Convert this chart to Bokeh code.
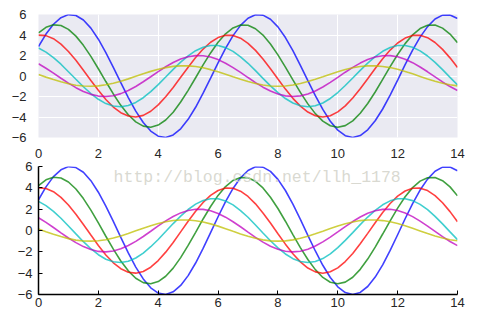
from bokeh.plotting import figure
from bokeh.layouts import column
from bokeh.models import Range1d, FixedTicker, Label
from bokeh.embed import file_html
from bokeh.resources import INLINE

x = [i * 0.25 for i in range(57)]

blue = [2.88, 4.09, 5.05, 5.69, 5.99, 5.90, 5.46, 4.67, 3.59, 2.29, 0.85, -0.65, -2.10, -3.43, -4.54, -5.37,
        -5.87, -6.00, -5.75, -5.15, -4.23, -3.05, -1.68, -0.20, 1.29, 2.70, 3.94, 4.94, 5.63, 5.97, 5.94, 5.54,
        4.79, 3.75, 2.47, 1.04, -0.45, -1.92, -3.26, -4.41, -5.28, -5.82, -6.00, -5.81, -5.25, -4.37, -3.22,
        -1.87, -0.40, 1.10, 2.52, 3.79, 4.82, 5.56, 5.94, 5.96, 5.61]
green = [4.21, 4.75, 4.99, 4.92, 4.55, 3.89, 2.99, 1.91, 0.71, -0.54, -1.75, -2.86, -3.78, -4.48, -4.89, -5.00,
         -4.79, -4.29, -3.53, -2.54, -1.40, -0.17, 1.08, 2.25, 3.29, 4.12, 4.69, 4.97, 4.95, 4.61, 3.99, 3.12,
         2.06, 0.87, -0.38, -1.60, -2.72, -3.67, -4.40, -4.85, -5.00, -4.84, -4.38, -3.64, -2.68, -1.56, -0.33,
         0.91, 2.10, 3.16, 4.02, 4.63, 4.95, 4.97, 4.67, 4.09, 3.25]
red = [3.99, 3.94, 3.64, 3.11, 2.39, 1.53, 0.56, -0.43, -1.40, -2.29, -3.03, -3.58, -3.91, -4.00, -3.84, -3.44,
       -2.82, -2.03, -1.12, -0.13, 0.86, 1.80, 2.63, 3.29, 3.75, 3.98, 3.96, 3.69, 3.19, 2.50, 1.65, 0.70,
       -0.30, -1.28, -2.18, -2.94, -3.52, -3.88, -4.00, -3.87, -3.50, -2.91, -2.15, -1.24, -0.27, 0.73, 1.68,
       2.53, 3.22, 3.70, 3.96, 3.97, 3.74, 3.27, 2.60, 1.77, 0.83]
cyan = [2.73, 2.33, 1.80, 1.15, 0.42, -0.32, -1.05, -1.71, -2.27, -2.69, -2.93, -3.00, -2.88, -2.58, -2.12, -1.52,
        -0.84, -0.10, 0.65, 1.35, 1.97, 2.47, 2.81, 2.98, 2.97, 2.77, 2.40, 1.87, 1.24, 0.52, -0.23, -0.96,
        -1.63, -2.20, -2.64, -2.91, -3.00, -2.90, -2.63, -2.19, -1.61, -0.93, -0.20, 0.55, 1.26, 1.89, 2.41,
        2.78, 2.97, 2.98, 2.80, 2.45, 1.95, 1.33, 0.62, -0.13, -0.86]
magenta = [1.20, 0.76, 0.28, -0.22, -0.70, -1.14, -1.51, -1.79, -1.96, -2.00, -1.92, -1.72, -1.41, -1.02, -0.56,
           -0.07, 0.43, 0.90, 1.31, 1.65, 1.88, 1.99, 1.98, 1.85, 1.60, 1.25, 0.82, 0.35, -0.15, -0.64, -1.09,
           -1.47, -1.76, -1.94, -2.00, -1.94, -1.75, -1.46, -1.07, -0.62, -0.13, 0.37, 0.84, 1.26, 1.61, 1.85,
           1.98, 1.99, 1.87, 1.64, 1.30, 0.88, 0.41, -0.08, -0.58, -1.03, -1.42]
yellow = [0.14, -0.11, -0.35, -0.57, -0.76, -0.90, -0.98, -1.00, -0.96, -0.86, -0.71, -0.51, -0.28, -0.03, 0.22,
          0.45, 0.66, 0.82, 0.94, 0.99, 0.99, 0.92, 0.80, 0.62, 0.41, 0.17, -0.08, -0.32, -0.54, -0.73, -0.88,
          -0.97, -1.00, -0.97, -0.88, -0.73, -0.54, -0.31, -0.07, 0.18, 0.42, 0.63, 0.80, 0.93, 0.99, 0.99, 0.93,
          0.82, 0.65, 0.44, 0.21, -0.04, -0.29, -0.52, -0.71, -0.86, -0.96]

series = [blue, green, red, cyan, magenta, yellow]
colors = ["#0000ff", "#008000", "#ff0000", "#00bfbf", "#bf00bf", "#bfbf00"]

x_ticks = [0, 2, 4, 6, 8, 10, 12, 14]
x_tick_labels = ["0", "2", "4", "6", "8", "10", "12", "14"]
y_ticks = [-6, -4, -2, 0, 2, 4, 6]
y_tick_labels = ["\u22126", "\u22124", "\u22122", "0", "2", "4", "6"]

watermark = "http://blog.csdn.net/llh_1178"

FONT = "Liberation Sans"


def make_fig(height, top, bottom, dark):
    p = figure(width=497, height=height, output_backend="svg", toolbar_location=None,
               x_range=Range1d(0, 14), y_range=Range1d(-6, 6),
               min_border_left=38, min_border_right=40, min_border_top=top, min_border_bottom=bottom)
    p.xaxis.ticker = FixedTicker(ticks=x_ticks)
    p.yaxis.ticker = FixedTicker(ticks=y_ticks)
    p.xaxis.major_label_overrides = {t: l for t, l in zip(x_ticks, x_tick_labels)}
    p.yaxis.major_label_overrides = {t: l for t, l in zip(y_ticks, y_tick_labels)}
    p.xaxis.minor_tick_line_color = None
    p.yaxis.minor_tick_line_color = None
    for ax in (p.xaxis, p.yaxis):
        ax.major_label_text_font = FONT
        ax.major_label_text_font_size = "13px"
        ax.major_label_text_color = "#262626"
    p.outline_line_color = None
    p.border_fill_color = "white"
    if dark:
        p.background_fill_color = "#EAEAF2"
        p.grid.grid_line_color = "white"
        p.grid.grid_line_width = 1
        p.xaxis.axis_line_color = None
        p.yaxis.axis_line_color = None
        p.xaxis.major_tick_line_color = None
        p.yaxis.major_tick_line_color = None
        p.xaxis.major_label_standoff = 5
        p.yaxis.major_label_standoff = 6
    else:
        p.background_fill_color = "white"
        p.grid.grid_line_color = None
        p.xaxis.axis_line_color = "black"
        p.yaxis.axis_line_color = "black"
        p.xaxis.axis_line_width = 1.5
        p.yaxis.axis_line_width = 1.5
        p.xaxis.major_tick_in = 4
        p.xaxis.major_tick_out = 0
        p.yaxis.major_tick_in = 4
        p.yaxis.major_tick_out = 0
        p.xaxis.major_label_standoff = 3
        p.yaxis.major_label_standoff = 6
    for ys, c in zip(series, colors):
        p.line(x, ys, line_color=c, line_width=1.6, line_alpha=0.75)
    return p


p1 = make_fig(160, 14, 19, True)
p2 = make_fig(162, 6, 28, False)

p2.add_layout(Label(x=2.51, y=4.97, text=watermark, text_font="Liberation Mono",
                    text_font_size="16.5px", text_color="#cfcfc5", text_alpha=0.8,
                    text_baseline="alphabetic"))

layout = column(p1, p2, spacing=0)
open("out.html", "w").write(file_html(layout, INLINE))
